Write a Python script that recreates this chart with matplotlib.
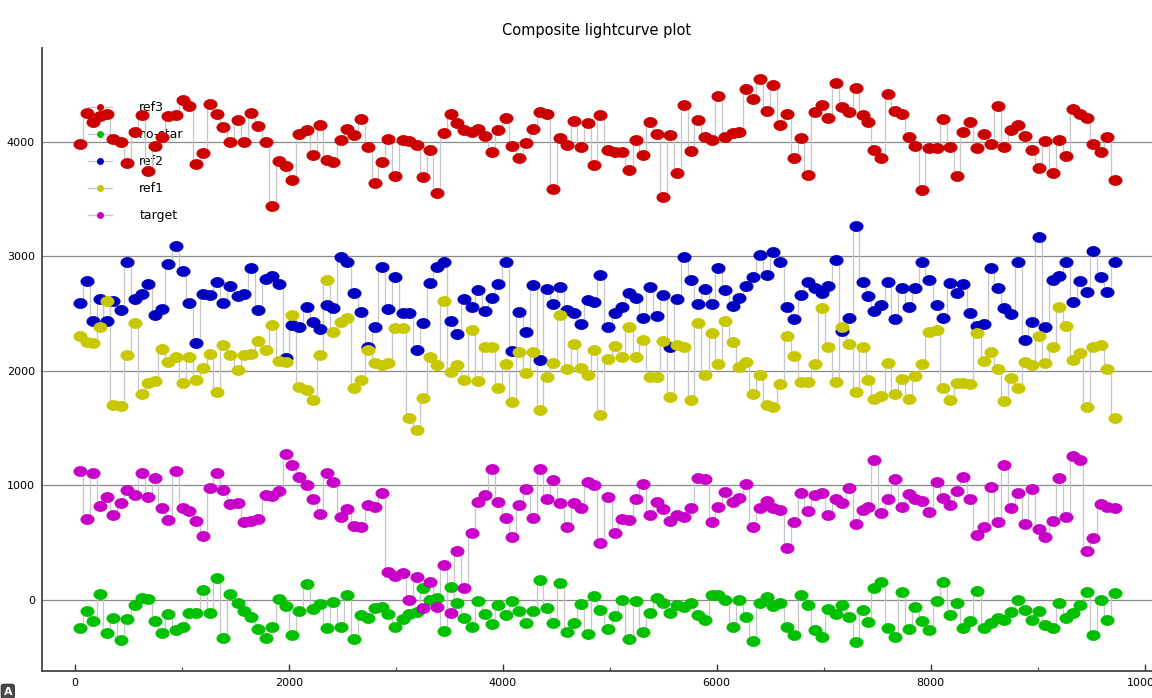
import numpy as np
import matplotlib
matplotlib.use("Agg")
import matplotlib.pyplot as plt
from matplotlib.lines import Line2D
from matplotlib.path import Path
from matplotlib.ticker import MultipleLocator

# observation times (shared by all stars)
time = [
    47, 109, 171, 234, 296, 357, 430, 489, 561, 623, 685, 748, 810, 873, 941,
    1007, 1069, 1131, 1200, 1262, 1325, 1387, 1452, 1521, 1583, 1646, 1714,
    1783, 1845, 1907, 1973, 2032, 2098, 2166, 2228, 2290, 2353,
    2416, 2484, 2547, 2609, 2674, 2743, 2805, 2868, 2930, 2992, 3064, 3126,
    3195, 3257, 3320, 3382, 3451, 3513, 3575, 3638, 3709, 3772, 3834, 3896,
    3959, 4027, 4089, 4152, 4217, 4286, 4348, 4411, 4473, 4535, 4604, 4666,
    4729, 4794, 4853, 4909,
    4986, 5049, 5111, 5180, 5245, 5307, 5376, 5438, 5501, 5563, 5632, 5697,
    5759, 5822, 5890, 5959, 6015, 6077, 6149, 6211, 6274, 6336, 6405, 6467,
    6529, 6592, 6660, 6723, 6788, 6850, 6919, 6981, 7044, 7112, 7175, 7240,
    7302, 7365, 7418,
    7471, 7540, 7602, 7664, 7732, 7794, 7856, 7919, 7981, 8058, 8114, 8183,
    8245, 8307, 8369, 8431, 8503, 8565, 8627, 8689, 8751, 8820, 8882, 8944,
    9009, 9071, 9140, 9202, 9270, 9332, 9397, 9460, 9522, 9590, 9652, 9721,
]

ref3 = [
    3980, 4250, 4175, 4230, 4240, 4025, 4000, 3815, 4090, 4235, 3745, 3960,
    4040, 4225, 4235, 4370, 4310, 3805, 3900, 4335, 4245, 4130, 3995, 4195,
    4000, 4250, 4135, 3995, 3440, 3830, 3790, 3670, 4070, 4105, 3885, 4145, 3840,
    3826, 4021, 4117, 4059, 4196, 3952, 3643, 3826, 4024, 3701, 4016, 4010,
    3972, 3696, 3928, 3550, 4074, 4248, 4161, 4103, 4088, 4117, 4051, 3914,
    4103, 4213, 3963, 3856, 3992, 4112, 4257, 4243, 3588, 4030, 3972, 4184,
    3952, 4167, 3797, 4234,
    3928, 3914, 3914, 3754, 4016, 3885, 4170, 4068, 3521, 4059, 3725, 4321,
    3923, 4190, 4039, 4016, 4400, 4045, 4080, 4088, 4458, 4374, 4545, 4272,
    4496, 4147, 4243, 3856, 4030, 3710, 4263, 4321, 4205, 4516, 4301, 4263,
    4467, 4234, 4176,
    3928, 3856, 4414, 4272, 4243, 4039, 3963, 3579, 3943, 3949, 4196, 3952,
    3701, 4088, 4176, 3949, 4068, 3978, 4312, 3952, 4103, 4147, 4051, 3928,
    3774, 4007, 3730, 4016, 3876, 4286, 4243, 4213, 3981, 3914, 4045, 3666,
]

no_star = [
    -245, -95, -185, 50, -285, -160, -350, -165, -40, 15, 5, -185, -285, -125,
    -260, -240, -115, -115, 85, -110, 195, -335, 50, -30, -95, -150, -250,
    -330, -240, 5, -50, -310, -100, 140, -80, -35, -245,
    -15, -239, 44, -343, -131, -160, -73, -58, -122, -233, -169, -122, -102,
    102, 0, 14, -268, 111, -23, -160, -233, -6, -122, -210, -44, -131, -6,
    -93, -198, -93, 175, -73, -204, 151, -277, -204, -35, -297, 35, -87,
    -256, -140, 0, -341, -6, -277, -111, 20, -29, -117, -44, -58, -29, -131,
    -175, 44, 44, 0, -233, 0, -151, -355, -29, 29, -52, -29, -233, -306, 44,
    -44, -262, -326, -82, -122, -44, -146, -364, -87, -189,
    102, 160, -248, -320, 73, -253, -64, -181, -262, -9, 154, -131, -23, -248,
    -184, 78, -242, -198, -160, -175, -102, 0, -87, -175, -96, -218, -248,
    -29, -160, -111, -44, 67, -306, 0, -175, 64,
]

ref2 = [
    2590, 2785, 2435, 2630, 2440, 2615, 2530, 2955, 2630, 2675, 2755, 2490,
    2545, 2935, 3090, 2870, 2595, 2240, 2675, 2660, 2780, 2590, 2740, 2655,
    2675, 2900, 2530, 2800, 2830, 2755, 2110, 2400, 2385, 2560, 2430, 2370, 2575,
    2546, 2997, 2953, 2677, 2517, 2206, 2386, 2910, 2537, 2823, 2508, 2508,
    2182, 2421, 2764, 2910, 2948, 2435, 2322, 2625, 2561, 2706, 2523, 2633,
    2758, 2953, 2177, 2517, 2342, 2750, 2095, 2712, 2581, 2735, 2532, 2502,
    2406, 2619, 2604, 2837,
    2386, 2508, 2561, 2683, 2633, 2465, 2729, 2482, 2662, 2206, 2628, 2997,
    2793, 2584, 2715, 2584, 2895, 2706, 2566, 2633, 2741, 2822, 3012, 2837,
    3041, 2953, 2555, 2450, 2662, 2779, 2721, 2677, 2741, 2968, 2351, 2465,
    3265, 2779, 2654,
    2526, 2575, 2779, 2450, 2721, 2561, 2721, 2953, 2793, 2575, 2459, 2770,
    2677, 2756, 2508, 2395, 2406, 2895, 2721, 2546, 2497, 2953, 2270, 2430,
    3172, 2386, 2793, 2828, 2953, 2604, 2785, 2686, 3050, 2823, 2692, 2953,
]

ref1 = [
    2305, 2255, 2245, 2385, 2610, 1700, 1690, 2140, 2415, 1800, 1895, 1910,
    2195, 2075, 2125, 1895, 2125, 1920, 2030, 2150, 1815, 2230, 2140, 2010,
    2140, 2145, 2260, 2185, 2405, 2085, 2080, 2490, 1860, 1830, 1750, 2140, 2795,
    2342, 2430, 2459, 1848, 1920, 2182, 2066, 2051, 2066, 2371, 2377, 1586,
    1484, 1760, 2124, 2051, 2613, 1993, 2051, 1920, 2357, 1912, 2211, 2211,
    1848, 2060, 1731, 2168, 1985, 2168, 1658, 1950, 2072, 2488, 2014, 2235,
    2022, 1964, 2182, 1615,
    2101, 2220, 2124, 2386, 2124, 2270, 1944, 1944, 2264, 1769, 2226, 2206,
    1746, 2421, 1964, 2334, 2060, 2438, 2255, 2031, 2080, 1798, 1964, 1702,
    1682, 1885, 2305, 2130, 1906, 1906, 2060, 2546, 2206, 1906, 2386, 2235,
    1819, 2206, 1920,
    1752, 1781, 2066, 1795, 1926, 1755, 1955, 2060, 2342, 2357, 1848, 1746,
    1897, 1897, 1885, 2328, 2086, 2162, 2014, 1740, 1935, 1854, 2075, 2051,
    2305, 2066, 2206, 2561, 2395, 2095, 2159, 1688, 2211, 2226, 2014, 1592,
]

target = [
    1130, 705, 1110, 820, 900, 740, 850, 960, 915, 1110, 900, 1065, 805, 700,
    1130, 805, 775, 690, 560, 980, 1110, 960, 840, 850, 685, 690, 710, 915,
    910, 950, 1275, 1180, 1075, 1005, 880, 750, 1105,
    1033, 727, 791, 646, 640, 829, 815, 931, 247, 209, 239, 0, 204, -73, 160,
    -58, 305, -111, 431, 108, 588, 858, 917, 1141, 858, 713, 553, 829, 966,
    719, 1141, 879, 1047, 850, 634, 850, 800, 1027, 1004, 495,
    902, 588, 704, 698, 879, 1013, 742, 858, 794, 693, 742, 722, 800, 1062,
    1053, 684, 815, 946, 858, 888, 1010, 634, 806, 867, 800, 786, 451, 678,
    931, 780, 917, 931, 742, 879, 844, 981, 663, 786, 809,
    1222, 757, 882, 1056, 809, 925, 879, 867, 765, 1027, 888, 829, 954, 1077,
    879, 567, 640, 989, 678, 1178, 800, 931, 660, 969, 617, 553, 693, 1062,
    727, 1257, 1222, 431, 538, 838, 815, 806,
]

names = ["ref3", "no-star", "ref2", "ref1", "target"]
series = [ref3, no_star, ref2, ref1, target]
colors = ["#cc0000", "#00c000", "#0000c0", "#c8c800", "#c800c8"]
line_gray = "#c6c6c6"

# slightly flattened blob marker (wider than tall)
ang = np.linspace(0, 2 * np.pi, 40)
blob = Path(np.column_stack([np.cos(ang), 0.75 * np.sin(ang)]), closed=True)

fig = plt.figure(figsize=(11.52, 6.98), dpi=100)
ax = fig.add_axes([42 / 1152, 27 / 698, 1110 / 1152, 623 / 698])

# connecting lines first, then the points on top
for vals in series:
    ax.plot(time, vals, color=line_gray, lw=0.9, drawstyle="steps-mid", zorder=1)
for vals, c in zip(series, colors):
    ax.plot(time, vals, ls="none", marker=blob, ms=9.5, mfc=c, mec=c,
            mew=0.6, zorder=2)

ax.set_xlim(-309, 10070)
ax.set_ylim(-620, 4820)
ax.xaxis.set_major_locator(MultipleLocator(2000))
ax.xaxis.set_minor_locator(MultipleLocator(1000))
ax.yaxis.set_major_locator(MultipleLocator(1000))
ax.tick_params(axis="x", which="major", direction="in", length=5, width=1,
               labelsize=8, pad=5, colors="#333333", labelcolor="black")
ax.tick_params(axis="x", which="minor", direction="in", length=3, width=0.8,
               colors="#555555")
ax.tick_params(axis="y", length=0, labelsize=8, pad=5)

ax.yaxis.grid(True, color="#8a8a8a", lw=0.9)
ax.set_axisbelow(True)
for side in ["top", "right"]:
    ax.spines[side].set_visible(False)
for side in ["left", "bottom"]:
    ax.spines[side].set_color("#444444")
    ax.spines[side].set_linewidth(1.3)

ax.set_title("Composite lightcurve plot", fontsize=10.5, pad=9)

handles = [Line2D([0], [0], color=line_gray, lw=0.9, marker="o", ms=4,
                  mfc=c, mec=c) for c in colors]
leg = ax.legend(handles, names, loc="upper left",
                bbox_to_anchor=(83 / 1152, 1 - 96 / 698),
                bbox_transform=fig.transFigure, frameon=False, fontsize=9,
                handlelength=1.9, handletextpad=2.2, labelspacing=1.13,
                borderpad=0.4, borderaxespad=0)
leg.set_zorder(0.5)

fig.text(0.003, 0.005, "A", fontsize=8, fontweight="bold", color="white",
         bbox=dict(boxstyle="round,pad=0.2", fc="#4a4a4a", ec="#333333", lw=0.8))

fig.savefig("out.png", dpi=100)
